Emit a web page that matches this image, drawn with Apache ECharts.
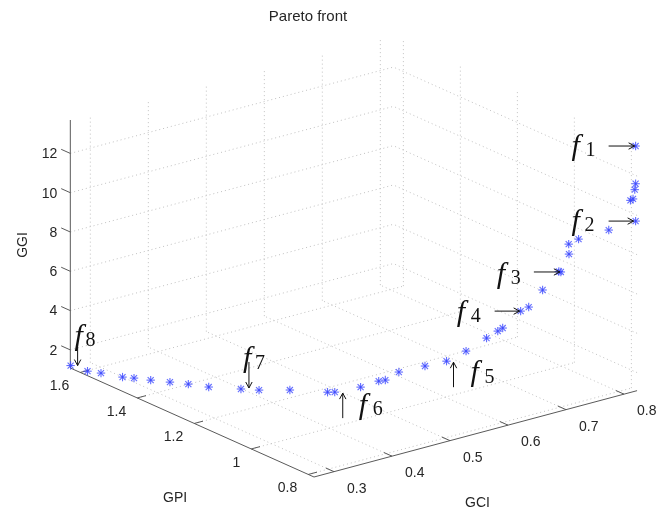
<!DOCTYPE html>
<html>
<head>
<meta charset="utf-8">
<script src="https://cdn.jsdelivr.net/npm/echarts@6/dist/echarts.min.js"></script>
<style>
  html, body { margin: 0; padding: 0; background: #fff; }
  #main { width: 670px; height: 514px; }
</style>
</head>
<body>
<div id="main"></div>
<script>
// Pareto front points: each index is one solution (GCI, GPI, GGI)
const GCI = [0.266, 0.273, 0.283, 0.298, 0.308, 0.322, 0.338, 0.353, 0.368, 0.398,
             0.414, 0.446, 0.479, 0.487, 0.508, 0.523, 0.528, 0.543, 0.562, 0.578,
             0.595, 0.620, 0.630, 0.638, 0.665, 0.674, 0.697, 0.727, 0.725, 0.741,
             0.741, 0.759, 0.785, 0.820, 0.816, 0.818, 0.819, 0.820, 0.820];
const GPI = [1.635, 1.590, 1.563, 1.518, 1.498, 1.468, 1.433, 1.399, 1.358, 1.306,
             1.275, 1.232, 1.167, 1.158, 1.110, 1.077, 1.064, 1.047, 0.994, 0.951,
             0.917, 0.896, 0.877, 0.876, 0.868, 0.858, 0.856, 0.853, 0.856, 0.853,
             0.854, 0.856, 0.803, 0.780, 0.790, 0.785, 0.781, 0.780, 0.780];
const GGI = [1.20, 1.15, 1.15, 1.12, 1.12, 1.10, 1.10, 1.10, 1.10, 1.10,
             1.12, 1.15, 1.20, 1.20, 1.60, 2.00, 2.10, 2.50, 3.00, 3.40,
             4.00, 4.60, 5.00, 5.10, 5.80, 6.00, 6.70, 7.40, 7.42, 8.20,
             8.70, 8.80, 9.40, 9.73, 10.75, 10.84, 11.33, 11.63, 13.55];

// Axis ranges and ticks
const gciRange = [0.2655, 0.8225];
const gpiRange = [0.78, 1.635];
const ggiRange = [1.08, 13.7];
const gciTicks = [0.3, 0.4, 0.5, 0.6, 0.7, 0.8];
const gpiTicks = [0.8, 1, 1.2, 1.4, 1.6];
const ggiTicks = [2, 4, 6, 8, 10, 12];

// Labelled solutions f1..f8 (index into the point arrays)
const labelNames = ['1', '2', '3', '4', '5', '6', '7', '8'];
const labelPoints = [38, 33, 27, 24, 19, 13, 9, 0];

// Layout of each label: arrow tail/head and text offsets in pixels from the point
const labelLayout = [
  { tail: [-27, 0], head: [-1, 0], f: [-64, 1], s: [-50, 5] },
  { tail: [-27, 0], head: [-2, 0], f: [-64, 1], s: [-51, 5] },
  { tail: [-27, 0], head: [-1, 0], f: [-64, 3], s: [-50, 7] },
  { tail: [-26, 0], head: [-1, 0], f: [-64, 2], s: [-50, 6] },
  { tail: [7, 26], head: [7, 1], f: [24, 12], s: [38, 17] },
  { tail: [8, 26], head: [8, 1], f: [24, 14], s: [38, 18] },
  { tail: [8, -27], head: [8, -1], f: [2, -30], s: [14, -25] },
  { tail: [7, -25], head: [7, 0], f: [4, -28], s: [15, -25] }
];

// Orthographic view: screen position of the (min,min,min) corner and the
// screen displacement produced by one unit along each data axis.
const VIEW = {
  origin: [314, 477],
  gci: [580, -155],
  gpi: [-285, -127.5],
  ggi: [0, -19.65]
};

function project(c, p, z) {
  const dc = c - gciRange[0], dp = p - gpiRange[0], dz = z - ggiRange[0];
  return [
    VIEW.origin[0] + dc * VIEW.gci[0] + dp * VIEW.gpi[0] + dz * VIEW.ggi[0],
    VIEW.origin[1] + dc * VIEW.gci[1] + dp * VIEW.gpi[1] + dz * VIEW.ggi[1]
  ];
}
function unit(v) { const l = Math.hypot(v[0], v[1]); return [v[0] / l, v[1] / l]; }

const AXIS_COLOR = '#5a5a5a';
const GRID_COLOR = '#c2c2c2';
const TEXT_COLOR = '#262626';
const SANS = '"Liberation Sans", Arial, Helvetica, sans-serif';
const SERIF = '"Liberation Serif", "Times New Roman", serif';

function seg(a, b, style) {
  return { type: 'line', shape: { x1: a[0], y1: a[1], x2: b[0], y2: b[1] }, style: style, silent: true };
}
function txt(x, y, text, font, align, valign, fill, extra) {
  return Object.assign({
    type: 'text', x: x, y: y, silent: true,
    style: { text: text, font: font, fill: fill || TEXT_COLOR, textAlign: align, textVerticalAlign: valign }
  }, extra || {});
}

function renderScene(params, api) {
  const P = (c, p, z) => api.coord(project(c, p, z));
  const kids = [];
  const grid = { stroke: GRID_COLOR, lineWidth: 1, lineDash: [1, 3] };
  const axis = { stroke: AXIS_COLOR, lineWidth: 1 };
  const [c0, c1] = gciRange, [p0, p1] = gpiRange, [z0, z1] = ggiRange;

  // floor grid
  gciTicks.forEach(c => kids.push(seg(P(c, p0, z0), P(c, p1, z0), grid)));
  gpiTicks.forEach(p => kids.push(seg(P(c0, p, z0), P(c1, p, z0), grid)));
  // back-left wall (GPI max)
  gciTicks.forEach(c => kids.push(seg(P(c, p1, z0), P(c, p1, z1), grid)));
  ggiTicks.forEach(z => kids.push(seg(P(c0, p1, z), P(c1, p1, z), grid)));
  // back-right wall (GCI max)
  gpiTicks.forEach(p => kids.push(seg(P(c1, p, z0), P(c1, p, z1), grid)));
  ggiTicks.forEach(z => kids.push(seg(P(c1, p0, z), P(c1, p1, z), grid)));

  // axis lines
  kids.push(seg(P(c0, p0, z0), P(c1, p0, z0), axis));   // GCI
  kids.push(seg(P(c0, p0, z0), P(c0, p1, z0), axis));   // GPI
  kids.push(seg(P(c0, p1, z0), P(c0, p1, z1), axis));   // GGI

  const dirGpi = unit(VIEW.gpi), dirGci = unit(VIEW.gci);
  const tickFont = '14px ' + SANS;

  gciTicks.forEach(c => {
    const a = P(c, p0, z0);
    kids.push(seg(a, [a[0] + dirGpi[0] * 9, a[1] + dirGpi[1] * 9], axis));
    kids.push(txt(a[0] + 13, a[1] + 17, String(c), tickFont, 'left', 'middle'));
  });
  gpiTicks.forEach(p => {
    const a = P(c0, p, z0);
    kids.push(seg(a, [a[0] + dirGci[0] * 9, a[1] + dirGci[1] * 9], axis));
    kids.push(txt(a[0] - 11, a[1] + 14, String(p), tickFont, 'right', 'middle'));
  });
  ggiTicks.forEach(z => {
    const a = P(c0, p1, z);
    kids.push(seg(a, [a[0] + dirGpi[0] * 10, a[1] + dirGpi[1] * 10], axis));
    kids.push(txt(a[0] - 13, a[1] + 1, String(z), tickFont, 'right', 'middle'));
  });

  // axis names
  const gciMid = P((c0 + c1) / 2, p0, z0);
  kids.push(txt(gciMid[0] + 2, gciMid[1] + 69, 'GCI', tickFont, 'center', 'middle'));
  const gpiMid = P(c0, (p0 + p1) / 2, z0);
  kids.push(txt(gpiMid[0] - 17, gpiMid[1] + 76, 'GPI', tickFont, 'center', 'middle'));
  const ggiMid = P(c0, p1, (z0 + z1) / 2);
  kids.push(txt(ggiMid[0] - 47, ggiMid[1] + 1, 'GGI', tickFont, 'center', 'middle', null,
    { rotation: Math.PI / 2 }));

  // title
  kids.push(txt(api.getWidth() / 2 - 27, 17, 'Pareto front', '15px ' + SANS, 'center', 'middle'));

  return { type: 'group', children: kids };
}

function renderPoint(params, api) {
  const pt = api.coord(project(api.value(0), api.value(1), api.value(2)));
  const r = 4.2, d = r * 0.72;
  const st = { stroke: 'rgba(60,72,255,0.8)', lineWidth: 1.1 };
  return {
    type: 'group', x: pt[0], y: pt[1],
    children: [
      seg([-r, 0], [r, 0], st), seg([0, -r], [0, r], st),
      seg([-d, -d], [d, d], st), seg([-d, d], [d, -d], st)
    ]
  };
}

function renderLabel(params, api) {
  const k = params.dataIndex;
  const i = api.value(0);
  const lay = labelLayout[k];
  const pt = api.coord(project(GCI[i], GPI[i], GGI[i]));
  const tail = [pt[0] + lay.tail[0], pt[1] + lay.tail[1]];
  const head = [pt[0] + lay.head[0], pt[1] + lay.head[1]];
  const dir = unit([head[0] - tail[0], head[1] - tail[1]]);
  const nx = -dir[1], ny = dir[0];
  const hl = 6, hw = 3.2;
  const st = { stroke: '#111', lineWidth: 1 };
  const b1 = [head[0] - dir[0] * hl + nx * hw, head[1] - dir[1] * hl + ny * hw];
  const b2 = [head[0] - dir[0] * hl - nx * hw, head[1] - dir[1] * hl - ny * hw];
  return {
    type: 'group',
    children: [
      seg(tail, head, st),
      { type: 'polyline', shape: { points: [b1, head, b2] }, style: Object.assign({ fill: null }, st), silent: true },
      txt(pt[0] + lay.f[0], pt[1] + lay.f[1], 'f', 'italic 30px ' + SERIF, 'left', 'middle', '#111'),
      txt(pt[0] + lay.s[0], pt[1] + lay.s[1], labelNames[k], '20px ' + SERIF, 'left', 'middle', '#111')
    ]
  };
}

const chart = echarts.init(document.getElementById('main'), null, { renderer: 'canvas' });
chart.setOption({
  animation: false,
  backgroundColor: '#ffffff',
  grid: { left: 0, right: 0, top: 0, bottom: 0 },
  xAxis: { type: 'value', min: 0, max: 670, show: false },
  yAxis: { type: 'value', min: 0, max: 514, inverse: true, show: false },
  series: [
    { type: 'custom', renderItem: renderScene, data: [[0, 0]], silent: true, z: 1 },
    {
      type: 'custom', renderItem: renderPoint, silent: true, z: 2,
      dimensions: ['GCI', 'GPI', 'GGI'],
      data: GCI.map((c, i) => [c, GPI[i], GGI[i]])
    },
    {
      type: 'custom', renderItem: renderLabel, silent: true, z: 3,
      data: labelPoints.map(i => [i])
    }
  ]
});
</script>
</body>
</html>
